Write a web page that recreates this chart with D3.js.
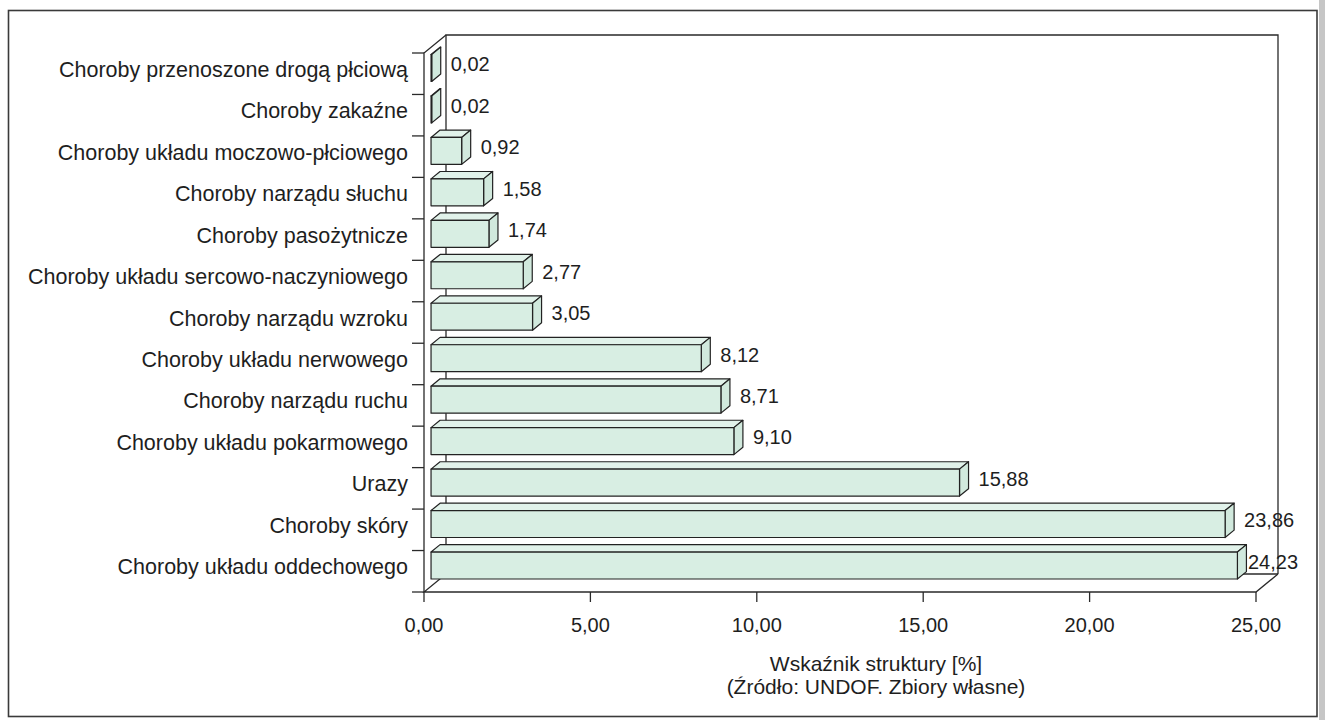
<!DOCTYPE html>
<html lang="pl">
<head>
  <meta charset="UTF-8">
  <title>Wskaźnik struktury chorób</title>
  <script src="https://d3js.org/d3.v7.min.js"></script>
  <style>
    body { margin: 0; background: #fff; }
    text { font-family: "Liberation Sans", Arial, Helvetica, sans-serif; fill: #1e1e1e; }
    .cat { font-size: 21.5px; }
    .val, .tick-label { font-size: 20px; }
    .title { font-size: 21px; }
    .edge { stroke: #2a2a2a; stroke-width: 1.3px; fill: none; }
  </style>
</head>
<body>
  <svg id="chart" width="1325" height="720"></svg>

  <script>
    // categories, top to bottom
    const categories = [
      "Choroby przenoszone drogą płciową",
      "Choroby zakaźne",
      "Choroby układu moczowo-płciowego",
      "Choroby narządu słuchu",
      "Choroby pasożytnicze",
      "Choroby układu sercowo-naczyniowego",
      "Choroby narządu wzroku",
      "Choroby układu nerwowego",
      "Choroby narządu ruchu",
      "Choroby układu pokarmowego",
      "Urazy",
      "Choroby skóry",
      "Choroby układu oddechowego"
    ];
    const values = [0.02, 0.02, 0.92, 1.58, 1.74, 2.77, 3.05, 8.12, 8.71, 9.10, 15.88, 23.86, 24.23];
    const xTicks = [0, 5, 10, 15, 20, 25];
    const axisTitle = ["Wskaźnik struktury [%]", "(Źródło: UNDOF. Zbiory własne)"];

    const svg = d3.select("#chart");
    const fmt = v => d3.format(".2f")(v).replace(".", ",");

    // layout
    const pLeft = 424, pRight = 1256, pTop = 53, pBottom = 592;
    const DX = 22, DY = -18;          // depth of the walls
    const f0 = 0.32, f1 = 0.73;       // bar front / back position inside the depth

    const x = d3.scaleLinear().domain([0, 25]).range([pLeft, pRight]);
    const y = d3.scaleBand().domain(categories).range([pTop, pBottom]).padding(0);
    const bw = y.bandwidth();

    // outer frame + scan edge
    svg.append("rect").attr("x", 1319).attr("y", 0).attr("width", 6).attr("height", 720)
      .attr("fill", "#c6c6c6");
    svg.append("rect").attr("x", 8.5).attr("y", 10.5).attr("width", 1308.5).attr("height", 706)
      .attr("fill", "none").attr("stroke", "#3a3a3a").attr("stroke-width", 1.6);

    const g = svg.append("g");
    const line = d3.line();

    // back wall
    g.append("path").attr("class", "edge")
      .attr("d", line([[pLeft + DX, pBottom + DY], [pLeft + DX, pTop + DY], [pRight + DX, pTop + DY], [pRight + DX, pBottom + DY]]));
    // floor: back edge, diagonals, front edge
    g.append("path").attr("class", "edge")
      .attr("d", line([[pLeft + DX, pBottom + DY], [pRight + DX, pBottom + DY]]));
    g.append("path").attr("class", "edge")
      .attr("d", line([[pLeft + DX, pBottom + DY], [pLeft, pBottom], [pRight, pBottom], [pRight + DX, pBottom + DY]]));
    // side wall front edge (category axis)
    g.append("path").attr("class", "edge")
      .attr("d", line([[pLeft, pBottom], [pLeft, pTop], [pLeft + DX, pTop + DY]]));

    // category ticks
    const bounds = categories.map(c => y(c)).concat([pBottom]);
    g.selectAll(".ytick").data(bounds).enter().append("line")
      .attr("class", "edge")
      .attr("x1", pLeft - 12).attr("x2", pLeft)
      .attr("y1", d => d).attr("y2", d => d);

    // value ticks
    g.selectAll(".xtick").data(xTicks).enter().append("line")
      .attr("class", "edge")
      .attr("x1", d => x(d)).attr("x2", d => x(d))
      .attr("y1", pBottom).attr("y2", pBottom + 10);

    g.selectAll(".tick-label").data(xTicks).enter().append("text")
      .attr("class", "tick-label")
      .attr("x", d => x(d)).attr("y", pBottom + 40)
      .attr("text-anchor", "middle")
      .text(d => fmt(d));

    // bars
    const bars = g.selectAll(".bar").data(categories.map((c, i) => ({ c, v: values[i] })))
      .enter().append("g").attr("class", "bar");

    const ox = DX * f0, oy = DY * f0;
    const dx = DX * (f1 - f0), dy = DY * (f1 - f0);
    const barH = bw * 0.65;
    const geo = d => {
      const x0 = x(0) + ox, x1 = x(d.v) + ox;
      const y0 = y(d.c) + (bw - barH) / 2 + oy, y1 = y0 + barH;
      return { x0, x1, y0, y1 };
    };

    bars.append("path")  // top face
      .attr("d", d => { const b = geo(d);
        return line([[b.x0, b.y0], [b.x0 + dx, b.y0 + dy], [b.x1 + dx, b.y0 + dy], [b.x1, b.y0]]) + "Z"; })
      .attr("fill", "#e1f2ea").attr("stroke", "#222").attr("stroke-width", 1.2).attr("stroke-linejoin", "round");
    bars.append("path")  // side face
      .attr("d", d => { const b = geo(d);
        return line([[b.x1, b.y0], [b.x1 + dx, b.y0 + dy], [b.x1 + dx, b.y1 + dy], [b.x1, b.y1]]) + "Z"; })
      .attr("fill", "#d1e9dd").attr("stroke", "#222").attr("stroke-width", 1.2).attr("stroke-linejoin", "round");
    bars.append("path")  // front face
      .attr("d", d => { const b = geo(d);
        return line([[b.x0, b.y0], [b.x1, b.y0], [b.x1, b.y1], [b.x0, b.y1]]) + "Z"; })
      .attr("fill", "#d8eee3").attr("stroke", "#222").attr("stroke-width", 1.2).attr("stroke-linejoin", "round");

    // value labels
    bars.append("text")
      .attr("class", "val")
      .attr("x", d => Math.min(geo(d).x1 + dx + 10, 1248))
      .attr("y", d => y(d.c) + bw / 2 + DY * (f0 + f1) / 2)
      .attr("dominant-baseline", "central")
      .text(d => fmt(d.v));

    // category labels
    g.selectAll(".cat").data(categories).enter().append("text")
      .attr("class", "cat")
      .attr("x", pLeft - 16)
      .attr("y", d => y(d) + bw / 2 - 4)
      .attr("text-anchor", "end")
      .attr("dominant-baseline", "central")
      .text(d => d);

    // axis title
    g.selectAll(".title").data(axisTitle).enter().append("text")
      .attr("class", "title")
      .attr("x", 876)
      .attr("y", (d, i) => 663 + i * 23)
      .attr("text-anchor", "middle")
      .attr("dominant-baseline", "central")
      .text(d => d);
  </script>
</body>
</html>
